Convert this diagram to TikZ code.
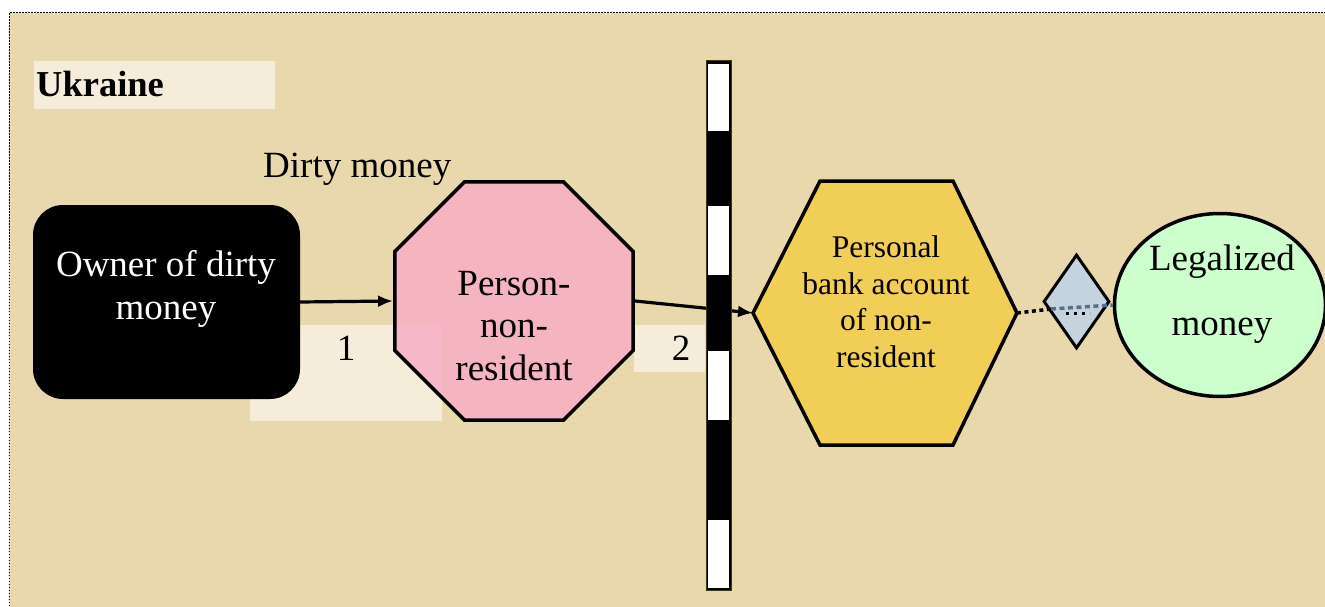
\documentclass[tikz,border=0pt]{standalone}
\usepackage{fontspec}
\setmainfont{Liberation Serif}
\usetikzlibrary{shapes.geometric,arrows.meta,calc}

\definecolor{parchment}{RGB}{233,216,172}
\definecolor{octpink}{RGB}{247,171,197}
\definecolor{hexgold}{RGB}{241,206,86}
\definecolor{diamblue}{RGB}{197,211,223}
\definecolor{ellgreen}{RGB}{204,255,204}
\definecolor{dotblue}{RGB}{88,112,142}
\definecolor{barline}{RGB}{60,55,20}

\begin{document}
\begin{tikzpicture}[x=1pt,y=-1pt,
  bigtext/.style={font=\fontsize{37}{42.5}\selectfont, align=center, inner sep=0pt},
  midtext/.style={font=\fontsize{31.5}{36.5}\selectfont, align=center, inner sep=0pt},
  labelbg/.style={fill=white, fill opacity=0.55},
  conn/.style={line width=3.2pt, -{Latex[length=15pt,width=12pt]}},
  octagon/.style={regular polygon, regular polygon sides=8, minimum size=258pt,
    inner sep=0pt, draw, line width=3.5pt, fill=octpink, fill opacity=0.8},
  ownerbox/.style={rectangle, rounded corners=30pt, fill=black, inner sep=0pt,
    minimum width=267pt, minimum height=194pt},
  gatebox/.style={diamond, draw, line width=3pt, fill=diamblue, inner sep=0pt,
    minimum width=66pt, minimum height=94pt},
  goalbox/.style={ellipse, draw, line width=3.5pt, fill=ellgreen, inner sep=0pt,
    minimum width=211pt, minimum height=183pt},
  dotline/.style={line width=3.5pt, dash pattern=on 4pt off 3.5pt}
]
\useasboundingbox (0,0) rectangle (1325,607);
% page and parchment field with its dotted frame
\fill[white] (0,0) rectangle (1325,607);
\fill[parchment] (9,13) rectangle (1335,615);
\draw[line width=1pt, dash pattern=on 1.5pt off 1.5pt] (9,615) -- (9,13) -- (1335,13);

% country caption
\fill[labelbg] (34,61) rectangle (275,109);
\node[font=\fontsize{36.5}{40}\selectfont\bfseries, inner sep=0pt, anchor=base west]
  (country) at (36,97) {Ukraine};

\node[bigtext, anchor=base west] (dirty) at (263,177) {Dirty money};

% step labels with pale backgrounds
\fill[labelbg] (250,325) rectangle (442,421);
\fill[labelbg] (634,325) rectangle (705,372);
\node[bigtext, anchor=base] (one) at (346,360) {1};
\node[bigtext, anchor=base] (two) at (681,360) {2};

% intermediary
\node[octagon] (person) at (514,301) {};
\node[bigtext, anchor=base] (persontxt) at (514,380) {Person-\\non-\\resident};

% owner
\node[ownerbox] (owner) at (166.5,302) {};
\node[bigtext, text=white, anchor=base] (ownertxt) at (166,319) {Owner of dirty\\money};

% foreign account (hexagon)
\coordinate (acct-w) at (753,313);
\coordinate (acct-e) at (1017,313);
\filldraw[fill=hexgold, line width=3.5pt, line join=miter]
  (acct-w) -- (820,181) -- (953,181) -- (acct-e) -- (953,445) -- (820,445) -- cycle;
\node[midtext, anchor=base] (accttxt) at (886,367) {Personal\\bank account\\of non-\\resident};

% transfers
\draw[conn] (owner.east) -- (person.west);
\draw[conn] (person.east) -- (acct-w);

% border barrier
\filldraw[fill=black, draw=barline, line width=1pt] (706,61) rectangle (731,590);
\foreach \ya/\yb in {63/131, 205/275, 350/420, 519/588}
  \filldraw[fill=white, draw=black, line width=0.8pt] (707.5,\ya) rectangle (729.5,\yb);

% legalization
\node[gatebox] (gate) at (1076.5,301.5) {};
\node[goalbox] (legal) at (1220,305) {};
\node[bigtext, anchor=base] (legaltxt1) at (1222,270) {Legalized};
\node[bigtext, anchor=base] (legaltxt2) at (1222,335) {money};

\coordinate (gate-in) at (1051,309);
\coordinate (gate-a) at (1066,313);
\coordinate (gate-b) at (1090,313);
\draw[dotline, black] (acct-e) -- (gate-in);
\draw[dotline, dotblue, dash pattern=on 5pt off 3.5pt] (gate-in) -- (legal.west);
\draw[line width=3pt, black, dash pattern=on 3pt off 5pt] (gate-a) -- (gate-b);
\end{tikzpicture}
\end{document}
